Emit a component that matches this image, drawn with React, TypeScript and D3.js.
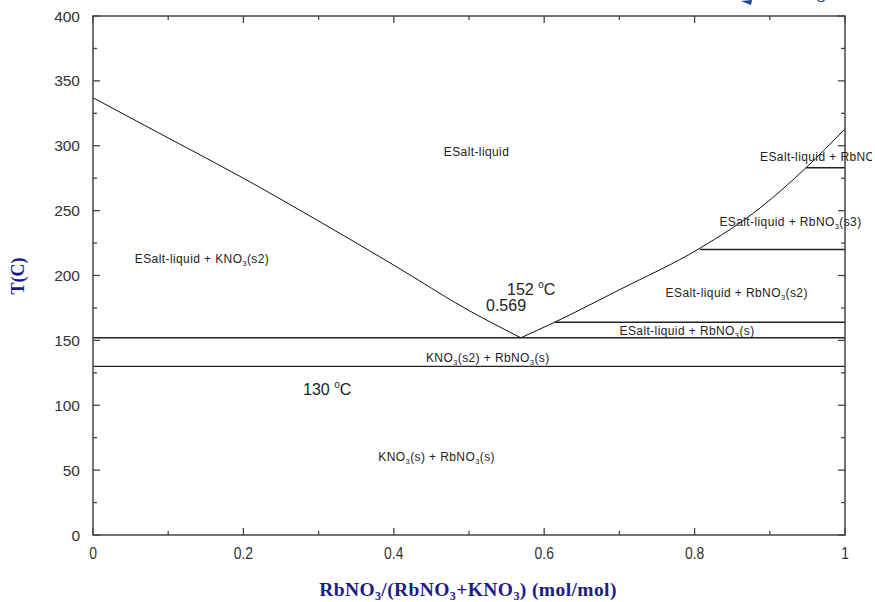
import React from "react";
import * as d3 from "d3";

// Phase diagram of the KNO3–RbNO3 system
const liquidusLeft: [number, number][] = [
  [0, 337], [0.1, 306], [0.2, 275], [0.3, 242], [0.4, 208], [0.5, 173], [0.569, 152],
];
const liquidusRight: [number, number][] = [
  [0.569, 152], [0.614, 164], [0.7, 189], [0.807, 221], [0.887, 252], [0.948, 283], [1.0, 313],
];
// horizontal invariant lines: [xStart, xEnd, T]
const isotherms: [number, number, number][] = [
  [0, 1, 152],
  [0, 1, 130],
  [0.614, 1, 164],
  [0.807, 1, 220],
  [0.948, 1, 283],
];
const xTicks = [0, 0.2, 0.4, 0.6, 0.8, 1];
const xMinor = [0.1, 0.3, 0.5, 0.7, 0.9];
const yTicks = [0, 50, 100, 150, 200, 250, 300, 350, 400];
const yMinor = [25, 75, 125, 175, 225, 275, 325, 375];

type Region = { x: number; T: number; parts: [string, boolean][]; anchor: string };
// region labels; each part is [text, isSubscript]
const regions: Region[] = [
  { x: 0.51, T: 292, parts: [["ESalt-liquid", false]], anchor: "middle" },
  { x: 0.145, T: 209.6, parts: [["ESalt-liquid + KNO", false], ["3", true], ["(s2)", false]], anchor: "middle" },
  { x: 0.887, T: 288, parts: [["ESalt-liquid + RbNO", false], ["3", true], ["(s4)", false]], anchor: "start" },
  { x: 0.833, T: 238, parts: [["ESalt-liquid + RbNO", false], ["3", true], ["(s3)", false]], anchor: "start" },
  { x: 0.856, T: 183.4, parts: [["ESalt-liquid + RbNO", false], ["3", true], ["(s2)", false]], anchor: "middle" },
  { x: 0.79, T: 154, parts: [["ESalt-liquid + RbNO", false], ["3", true], ["(s)", false]], anchor: "middle" },
  { x: 0.525, T: 133.3, parts: [["KNO", false], ["3", true], ["(s2) + RbNO", false], ["3", true], ["(s)", false]], anchor: "middle" },
  { x: 0.457, T: 57, parts: [["KNO", false], ["3", true], ["(s) + RbNO", false], ["3", true], ["(s)", false]], anchor: "middle" },
];

const W = 875;
const H = 602;
const left = 93, right = 845, top = 16, bottom = 535;
const sans = "Arial, 'Liberation Sans', sans-serif";
const serif = "'Liberation Serif', 'Times New Roman', serif";

export default function App() {
  const x = d3.scaleLinear().domain([0, 1]).range([left, right]);
  const y = d3.scaleLinear().domain([0, 400]).range([bottom, top]);
  const line = d3
    .line<[number, number]>()
    .x((d) => x(d[0]))
    .y((d) => y(d[1]))
    .curve(d3.curveMonotoneX);

  const axisColor = "#444";
  const labelColor = "#333";
  const navy = "#1c1c86";

  return (
    <svg width={W} height={H} style={{ position: "absolute", left: 0, top: 0, background: "#fff" }}>
      <defs>
        <clipPath id="page">
          <rect x={0} y={0} width={872} height={H} />
        </clipPath>
      </defs>

      {/* curves */}
      <path d={line(liquidusLeft) ?? ""} fill="none" stroke="#111" strokeWidth={1} />
      <path d={line(liquidusRight) ?? ""} fill="none" stroke="#111" strokeWidth={1} />
      {isotherms.map(([a, b, t], i) => (
        <line key={i} x1={x(a)} x2={x(b)} y1={y(t)} y2={y(t)} stroke="#222" strokeWidth={1.4} />
      ))}

      {/* frame */}
      <rect x={left} y={top} width={right - left} height={bottom - top} fill="none" stroke={axisColor} strokeWidth={1.5} />

      {/* ticks */}
      {xTicks.map((v) => (
        <g key={"xt" + v}>
          <line x1={x(v)} x2={x(v)} y1={bottom} y2={bottom - 7} stroke={axisColor} strokeWidth={1.3} />
          <line x1={x(v)} x2={x(v)} y1={top} y2={top + 7} stroke={axisColor} strokeWidth={1.3} />
          <text
            transform={`translate(${x(v)},559) scale(0.82,1)`}
            textAnchor="middle"
            fontFamily={sans}
            fontSize={17}
            fill={labelColor}
          >
            {String(v)}
          </text>
        </g>
      ))}
      {xMinor.map((v) => (
        <g key={"xm" + v}>
          <line x1={x(v)} x2={x(v)} y1={bottom} y2={bottom - 4} stroke={axisColor} strokeWidth={1.3} />
          <line x1={x(v)} x2={x(v)} y1={top} y2={top + 4} stroke={axisColor} strokeWidth={1.3} />
        </g>
      ))}
      {yTicks.map((v) => (
        <g key={"yt" + v}>
          <line x1={left} x2={left + 7} y1={y(v)} y2={y(v)} stroke={axisColor} strokeWidth={1.3} />
          <line x1={right} x2={right - 7} y1={y(v)} y2={y(v)} stroke={axisColor} strokeWidth={1.3} />
          <text x={80} y={y(v) + 5.5} textAnchor="end" fontFamily={sans} fontSize={15.5} fill={labelColor}>
            {String(v)}
          </text>
        </g>
      ))}
      {yMinor.map((v) => (
        <g key={"ym" + v}>
          <line x1={left} x2={left + 4} y1={y(v)} y2={y(v)} stroke={axisColor} strokeWidth={1.3} />
          <line x1={right} x2={right - 4} y1={y(v)} y2={y(v)} stroke={axisColor} strokeWidth={1.3} />
        </g>
      ))}

      {/* region labels */}
      <g clipPath="url(#page)">
        {regions.map((r, i) => (
          <text
            key={i}
            x={x(r.x)}
            y={y(r.T)}
            textAnchor={r.anchor as any}
            fontFamily={sans}
            fontSize={12}
            letterSpacing={0.4}
            fill="#222"
          >
            {r.parts.map(([s, sub], j) =>
              sub ? (
                <tspan key={j} fontSize={7.5} dy={3}>{s}</tspan>
              ) : (
                <tspan key={j} dy={j > 0 && r.parts[j - 1][1] ? -3 : 0}>{s}</tspan>
              )
            )}
          </text>
        ))}
      </g>

      {/* eutectic annotations */}
      <text x={507} y={295} fontFamily={sans} fontSize={16} fill="#222">
        152 <tspan fontSize={10} dy={-7}>o</tspan><tspan dy={7}>C</tspan>
      </text>
      <text x={486} y={311} fontFamily={sans} fontSize={16} fill="#222">0.569</text>
      <text x={303} y={395} fontFamily={sans} fontSize={16} fill="#222">
        130 <tspan fontSize={10} dy={-7}>o</tspan><tspan dy={7}>C</tspan>
      </text>

      {/* axis titles */}
      <text
        transform="translate(24,276) rotate(-90)"
        textAnchor="middle"
        fontFamily={serif}
        fontWeight="bold"
        fontSize={18}
        fill={navy}
      >
        T(C)
      </text>
      <text
        x={468}
        y={596}
        textAnchor="middle"
        fontFamily={serif}
        fontWeight="bold"
        fontSize={19.5}
        letterSpacing={0.4}
        fill={navy}
      >
        RbNO<tspan fontSize={12} dy={4}>3</tspan>
        <tspan dy={-4}>/(RbNO</tspan><tspan fontSize={12} dy={4}>3</tspan>
        <tspan dy={-4}>+KNO</tspan><tspan fontSize={12} dy={4}>3</tspan>
        <tspan dy={-4}>) (mol/mol)</tspan>
      </text>

      {/* fragments of a header above the chart */}
      <path d="M741,1 L752,0 L751,5 Z" fill="#1b3f8f" />
      <text x={817} y={-2} fontFamily={serif} fontWeight="bold" fontSize={16} fill="#1b3f8f">g</text>
    </svg>
  );
}
